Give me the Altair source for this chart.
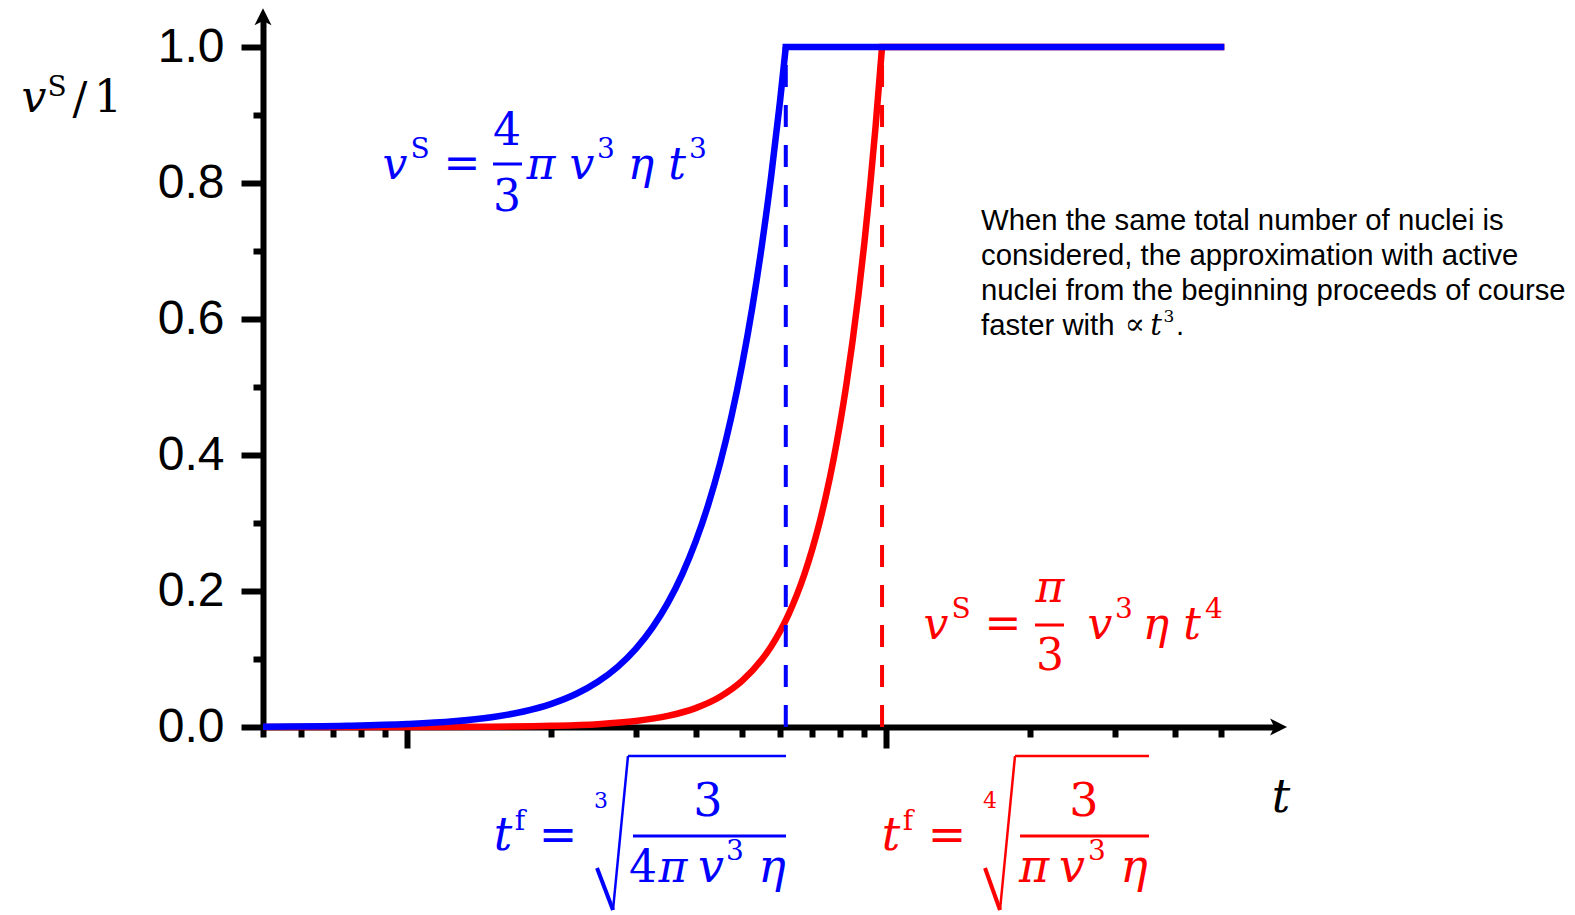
import altair as alt
import pandas as pd

# page position of the axes box (top-left corner) and its size
OX, OY = 263, 16
W, H = 1016, 711

SERIF = "DejaVu Serif"
SANS = "Liberation Sans"
BLUE = "#0000FF"
RED = "#FF0000"

# volume fraction, all nuclei active from the start (~t^3), up to completion
blue_t = [0.5, 0.75, 1.0, 1.25, 1.5, 1.75, 2.0, 2.25, 2.5, 2.75, 3.0, 3.25, 3.5, 3.75,
          4.0, 4.25, 4.5, 4.75, 5.0, 5.25, 5.5, 5.75, 6.0, 6.17]
blue_v = [0.0005, 0.0018, 0.0043, 0.0083, 0.0144, 0.0228, 0.0341, 0.0485, 0.0665, 0.0885,
          0.1149, 0.1461, 0.1825, 0.2245, 0.2725, 0.3268, 0.3879, 0.4562, 0.5321, 0.6160,
          0.7083, 0.8093, 0.9195, 1.0]

# volume fraction, nuclei appearing continuously (~t^4), up to completion
red_t = [0.5, 1.0, 1.5, 2.0, 2.5, 3.0, 3.5, 4.0, 4.5, 5.0, 5.5, 5.75, 6.0, 6.25, 6.5, 6.75,
         7.0, 7.25, 7.5, 7.75, 8.0, 8.25, 8.5, 8.75, 9.0, 9.25, 9.5, 9.8]
red_v = [0.0, 0.0001, 0.0005, 0.0017, 0.0042, 0.0088, 0.0163, 0.0278, 0.0445, 0.0678, 0.0992,
         0.1185, 0.1405, 0.1654, 0.1935, 0.2251, 0.2603, 0.2995, 0.3430, 0.3911, 0.4441,
         0.5023, 0.5660, 0.6355, 0.7113, 0.7937, 0.8831, 1.0]

# completion times t^f; after them the fraction stays at 1 up to t_end
tf_series = ["red", "blue"]
tf_values = [9.8, 6.17]
t_end = 50

x_ticks = [0.5, 0.6, 0.7, 0.8, 0.9, 1, 2, 3, 4, 5, 6, 7, 8, 9, 10, 20, 30, 40, 50]
y_ticks = [0.0, 0.1, 0.2, 0.3, 0.4, 0.5, 0.6, 0.7, 0.8, 0.9, 1.0]

curves = pd.concat([
    pd.DataFrame({"t": red_t, "v": red_v, "s": "red"}),
    pd.DataFrame({"t": blue_t, "v": blue_v, "s": "blue"}),
])
finals = pd.DataFrame({"s": tf_series, "t": tf_values, "t_end": [t_end, t_end],
                       "v0": [0.0, 0.0], "v1": [1.0, 1.0]})

xscale = alt.Scale(type="log", domain=[0.5, 66.05], nice=False)
yscale = alt.Scale(domain=[0, 1.0456], nice=False, zero=True)
cscale = alt.Scale(domain=["blue", "red"], range=[BLUE, RED])

x_axis = alt.Axis(
    values=x_ticks, labels=False, title=None, grid=False,
    domainColor="black", domainWidth=6, tickColor="black", tickWidth=6,
    tickSize={"condition": {"test": "datum.value == 1 || datum.value == 10", "value": 21}, "value": 10},
)
y_axis = alt.Axis(
    values=y_ticks, title=None, grid=False,
    domainColor="black", domainWidth=6, tickColor="black", tickWidth=6,
    tickSize={"condition": {"test": "round(datum.value * 10) % 2 == 0", "value": 22}, "value": 10},
    labelExpr="round(datum.value * 10) % 2 == 0 ? format(datum.value, '.1f') : ''",
    labelFont=SANS, labelFontSize=48, labelColor="black", labelPadding=17,
    labelOverlap=False, labelFlush=False, labelBound=False,
)

base = alt.Chart(curves).encode(
    x=alt.X("t:Q", scale=xscale, axis=x_axis),
    y=alt.Y("v:Q", scale=yscale, axis=y_axis),
)
red_line = base.transform_filter(alt.datum.s == "red").mark_line(
    color=RED, strokeWidth=6.5, interpolate="monotone")
blue_line = base.transform_filter(alt.datum.s == "blue").mark_line(
    color=BLUE, strokeWidth=6.5, interpolate="monotone")

# plateau at v = 1 after completion
plateau = alt.Chart(finals).mark_rule(strokeWidth=6.5, strokeCap="square").encode(
    x="t:Q", x2="t_end:Q", y="v1:Q",
    color=alt.Color("s:N", scale=cscale, legend=None),
)
red_plateau = plateau.transform_filter(alt.datum.s == "red")
blue_plateau = plateau.transform_filter(alt.datum.s == "blue")

dashes = alt.Chart(finals).mark_rule(strokeWidth=4, strokeDash=[22, 18]).encode(
    x="t:Q", y="v0:Q", y2="v1:Q",
    color=alt.Color("s:N", scale=cscale, legend=None),
)

# arrow heads at the ends of both axes
arrow_up = alt.Chart(pd.DataFrame({"t": [0.5], "v": [1.057]})).mark_point(
    shape="M0,0 L0.5,1 L0,0.75 L-0.5,1 Z", size=1156, filled=True, color="black", opacity=1
).encode(x="t:Q", y="v:Q")
arrow_right = alt.Chart(pd.DataFrame({"t": [68.66], "v": [0.0]})).mark_point(
    shape="M0,0 L-1,-0.5 L-0.75,0 L-1,0.5 Z", size=1156, filled=True, color="black", opacity=1
).encode(x="t:Q", y="v:Q")

ONE = pd.DataFrame({"k": [0]})


def glyph(s, cx, base_y, size, color, italic=False, font=SERIF, align="center"):
    return alt.Chart(ONE).mark_text(
        text=s, font=font, fontSize=size, fontStyle="italic" if italic else "normal",
        color=color, align=align, baseline="alphabetic",
    ).encode(x=alt.value(cx - OX), y=alt.value(base_y - OY))


def stroke(x1, y1, x2, y2, color, width):
    return alt.Chart(ONE).mark_rule(color=color, strokeWidth=width).encode(
        x=alt.value(x1 - OX), x2=alt.value(x2 - OX), y=alt.value(y1 - OY), y2=alt.value(y2 - OY)
    )


M, S = 44, 28  # math font size, superscript size

layers = [red_line, red_plateau, dashes, blue_line, blue_plateau, arrow_up, arrow_right]

# y-axis title  v^S / 1, x-axis title t
layers += [
    glyph("v", 34, 112, M, "black", True),
    glyph("S", 57, 96, S, "black"),
    glyph("/", 80, 114, M, "black"),
    glyph("1", 108, 112, M, "black"),
    glyph("t", 1281, 812, 46, "black", True),
]

# v^S = 4/3 pi v^3 eta t^3
for s, cx, by, size, it in [
    ("v", 395, 179, M, True), ("S", 420, 158, S, False), ("=", 462, 178, M, False),
    ("4", 507, 145, M, False), ("3", 507, 211, M, False), ("π", 541, 179, M, True),
    ("v", 582, 179, M, True), ("3", 606, 158, S, False), ("η", 641, 179, M, True),
    ("t", 677, 179, M, True), ("3", 698, 158, S, False),
]:
    layers.append(glyph(s, cx, by, size, BLUE, it))
layers.append(stroke(493, 164, 522, 164, BLUE, 3))

# v^S = pi/3 v^3 eta t^4
for s, cx, by, size, it in [
    ("v", 936, 639, M, True), ("S", 961, 618, S, False), ("=", 1003, 638, M, False),
    ("π", 1050, 602, M, True), ("3", 1050, 670, M, False), ("v", 1100, 639, M, True),
    ("3", 1124, 618, S, False), ("η", 1156, 639, M, True), ("t", 1192, 639, M, True),
    ("4", 1214, 618, S, False),
]:
    layers.append(glyph(s, cx, by, size, RED, it))
layers.append(stroke(1035, 625, 1064, 625, RED, 3))

# t^f = cube root of 3 / (4 pi v^3 eta)
for s, cx, by, size, it in [
    ("t", 503, 850, 46, True), ("f", 520, 830, S, False), ("=", 558, 850, 46, False),
    ("3", 601, 808, 22, False), ("3", 708, 816, 46, False), ("4", 643, 882, 44, False),
    ("π", 673, 882, 44, True), ("v", 711, 882, 46, True), ("3", 735, 860, S, False),
    ("η", 772, 882, 46, True),
]:
    layers.append(glyph(s, cx, by, size, BLUE, it))
layers += [
    stroke(597, 868, 613, 910, BLUE, 4),
    stroke(613, 910, 628, 756, BLUE, 2.5),
    stroke(628, 756, 786, 756, BLUE, 2.5),
    stroke(633, 836, 786, 836, BLUE, 3),
]

# t^f = fourth root of 3 / (pi v^3 eta)
for s, cx, by, size, it in [
    ("t", 891, 850, 46, True), ("f", 908, 830, S, False), ("=", 947, 850, 46, False),
    ("4", 990, 808, 22, False), ("3", 1084, 816, 46, False), ("π", 1034, 882, 46, True),
    ("v", 1072, 882, 46, True), ("3", 1097, 860, S, False), ("η", 1134, 882, 46, True),
]:
    layers.append(glyph(s, cx, by, size, RED, it))
layers += [
    stroke(985, 868, 1000, 910, RED, 4),
    stroke(1000, 910, 1015, 756, RED, 2.5),
    stroke(1015, 756, 1149, 756, RED, 2.5),
    stroke(1020, 836, 1149, 836, RED, 3),
]

# explanatory note
note = [
    "When the same total number of nuclei is",
    "considered, the approximation with active",
    "nuclei from the beginning proceeds of course",
]
for i, line in enumerate(note):
    layers.append(glyph(line, 981, 230 + 35 * i, 29.3, "black", font=SANS, align="left"))
layers += [
    glyph("faster with", 981, 335, 29.3, "black", font=SANS, align="left"),
    glyph("∝", 1135, 334, 30, "black"),
    glyph("t", 1156, 335, 29, "black", True),
    glyph("3", 1169, 322, 17, "black"),
    glyph(".", 1180, 335, 29.3, "black", font=SANS),
]

chart = alt.layer(*layers).properties(
    width=W, height=H,
    padding={"left": OX, "top": OY, "right": 1575 - OX - W, "bottom": 915 - OY - H},
    autosize=alt.AutoSizeParams(type="none"),
    background="white",
).configure_view(stroke=None)

chart.save("out.html", embed_options={"renderer": "svg", "actions": False})
